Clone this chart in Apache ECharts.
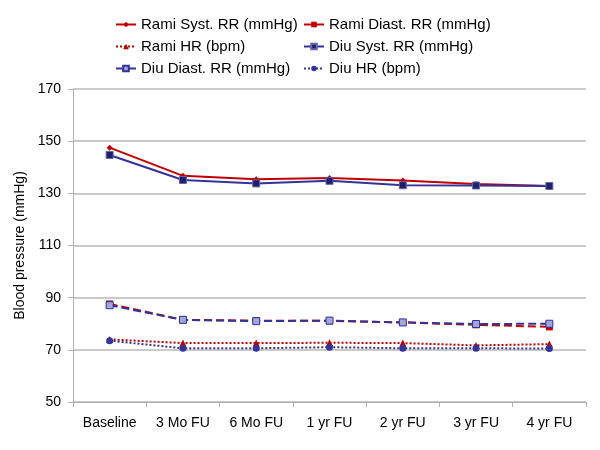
<!DOCTYPE html>
<html><head><meta charset="utf-8">
<script src="https://cdn.jsdelivr.net/npm/echarts@6/dist/echarts.min.js"></script>
<style>html,body{margin:0;padding:0;background:#fff}#c{width:600px;height:450px}</style>
</head><body><div id="c"></div>
<script>
var categories = ['Baseline','3 Mo FU','6 Mo FU','1 yr FU','2 yr FU','3 yr FU','4 yr FU'];
var ramiSyst  = [147.5, 136.7, 135.4, 135.9, 134.9, 133.6, 132.8];
var ramiDiast = [87.6, 81.5, 81.2, 81.1, 80.5, 79.6, 78.8];
var ramiHR    = [74.0, 72.6, 72.6, 72.7, 72.6, 71.7, 72.2];
var diuSyst   = [144.7, 135.1, 133.8, 134.8, 133.1, 133.0, 132.8];
var diuDiast  = [87.1, 81.5, 81.0, 81.2, 80.5, 79.9, 80.0];
var diuHR     = [73.5, 70.6, 70.6, 71.0, 70.6, 70.6, 70.5];
var yTicks = {min: 50, max: 170, interval: 20};
var names = ['Rami Syst. RR (mmHg)','Rami Diast. RR (mmHg)','Rami HR (bpm)','Diu Syst. RR (mmHg)','Diu Diast. RR (mmHg)','Diu HR (bpm)'];

var RED = '#C00000', BLUE = '#333399';
function s(name, data, color, ltype, symbol, size, fill, border) {
  return {
    name: name, type: 'line', data: data, symbol: symbol, symbolSize: size,
    lineStyle: {color: color, width: 2, type: ltype},
    itemStyle: {color: fill || color, borderColor: border || color, borderWidth: border ? 1 : 0},
    z: 2, animation: false
  };
}
var chart = echarts.init(document.getElementById('c'), null, {renderer: 'canvas'});
var font = 'Liberation Sans, Arial, sans-serif';
chart.setOption({
  animation: false,
  textStyle: {fontFamily: font},
  legend: [
    {data: [names[0], names[2], names[4]], orient: 'vertical', left: 110, top: 12, itemGap: 7,
     itemWidth: 20, itemHeight: 7, textStyle: {fontSize: 15, color: '#000', fontFamily: font}},
    {data: [names[1], names[3], names[5]], orient: 'vertical', left: 298, top: 12, itemGap: 7,
     itemWidth: 20, itemHeight: 7, textStyle: {fontSize: 15, color: '#000', fontFamily: font}}
  ],
  grid: {left: 73, right: 14, top: 89, bottom: 48, containLabel: false},
  xAxis: {
    type: 'category', data: categories, boundaryGap: true,
    axisLine: {lineStyle: {color: '#b0b0b0', width: 1}},
    axisTick: {show: true, alignWithLabel: false, length: 5, lineStyle: {color: '#b0b0b0'}},
    axisLabel: {fontSize: 14, color: '#000', margin: 14, fontFamily: font, interval: 0}
  },
  yAxis: {
    type: 'value', min: yTicks.min, max: yTicks.max, interval: yTicks.interval,
    name: 'Blood pressure (mmHg)', nameLocation: 'middle', nameGap: 46, nameRotate: 90,
    nameTextStyle: {fontSize: 14, color: '#000', fontFamily: font},
    axisLine: {show: true, lineStyle: {color: '#b0b0b0'}},
    axisTick: {show: true, length: 5, lineStyle: {color: '#b0b0b0'}},
    axisLabel: {fontSize: 14, color: '#000', margin: 12, fontFamily: font},
    splitLine: {lineStyle: {color: '#b8b8b8', width: 1.5}}
  },
  series: [
    s(names[0], ramiSyst, RED, 'solid', 'diamond', 6),
    s(names[1], ramiDiast, RED, [8, 4], 'rect', 7),
    s(names[2], ramiHR, RED, [2, 2], 'triangle', 7),
    s(names[3], diuSyst, BLUE, 'solid', 'rect', 7, '#1f1f6b', '#6666aa'),
    s(names[4], diuDiast, BLUE, [8, 4], 'rect', 7, '#a3a6d8', BLUE),
    s(names[5], diuHR, BLUE, [2, 2], 'circle', 7)
  ]
});
</script></body></html>
